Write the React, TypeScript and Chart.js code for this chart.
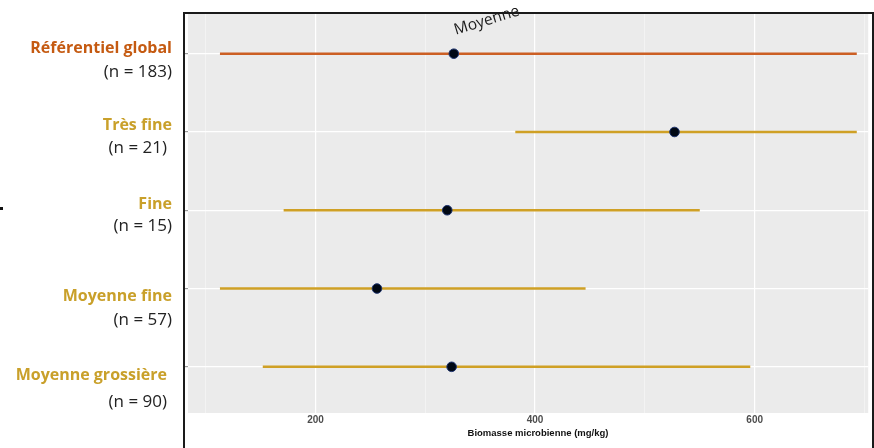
import React, { useEffect, useRef } from "react";
import { Chart, registerables } from "chart.js";

Chart.register(...registerables);

// ---- data ----
const categories = ["Référentiel global", "Très fine", "Fine", "Moyenne fine", "Moyenne grossière"];
const counts = [183, 21, 15, 57, 90];
const minValues = [113, 382, 171, 113, 152];
const maxValues = [693, 693, 550, 446, 596];
const meanValues = [326, 527, 320, 256, 324];
const xTickValues = [100, 200, 300, 400, 500, 600, 700];
const xLabelValues = [200, 400, 600];
const xTitle = "Biomasse microbienne (mg/kg)";
const annotationText = "Moyenne";

// ---- style ----
const lineColors = ["#CC5F24", "#CFA025", "#CFA025", "#CFA025", "#CFA025"];
const textColors = ["#C55A11", "#C9A02A", "#C9A02A", "#C9A02A", "#C9A02A"];
const nameDy = [-5, -7, -6, 8, 9];
const countDy = [18.5, 16, 16, 31.5, 35];
const nameRight = [172, 172, 172, 172, 167];
const countRight = [172, 167, 172, 172, 167];
const LABEL_FONT = "'Open Sans', Lato, sans-serif";

export default function App() {
  const ref = useRef<HTMLCanvasElement | null>(null);

  useEffect(() => {
    document.body.style.margin = "0";
    const canvas = ref.current!;
    const rangeSets = categories.map((c, i) => ({
      type: "line" as const,
      label: c,
      data: [
        { x: minValues[i], y: i },
        { x: maxValues[i], y: i },
      ],
      borderColor: lineColors[i],
      borderWidth: 2.6,
      borderCapStyle: "butt" as const,
      pointRadius: 0,
      showLine: true,
      order: 2,
    }));
    const meanSet = {
      type: "scatter" as const,
      label: "Moyenne",
      data: categories.map((_, i) => ({ x: meanValues[i], y: i })),
      backgroundColor: "#000814",
      borderColor: "#1E3470",
      borderWidth: 1,
      pointRadius: 4.8,
      order: 1,
    };

    const decor = {
      id: "decor",
      beforeDraw(chart: any) {
        const { ctx, chartArea: a } = chart;
        ctx.save();
        ctx.fillStyle = "#EBEBEB";
        ctx.fillRect(a.left, a.top, a.right - a.left, a.bottom - a.top);
        ctx.restore();
      },
      afterDraw(chart: any) {
        const { ctx } = chart;
        const y = chart.scales.y;
        const x = chart.scales.x;
        ctx.save();
        // category labels
        ctx.textAlign = "right";
        ctx.textBaseline = "middle";
        categories.forEach((c, i) => {
          const py = y.getPixelForValue(i);
          ctx.font = `bold 16px ${LABEL_FONT}`;
          ctx.fillStyle = textColors[i];
          ctx.fillText(c, nameRight[i], py + nameDy[i]);
          ctx.font = `17px ${LABEL_FONT}`;
          ctx.fillStyle = "#222222";
          ctx.fillText(`(n = ${counts[i]})`, countRight[i], py + countDy[i]);
        });
        // x title
        ctx.textAlign = "center";
        ctx.font = "bold 9.5px 'Liberation Sans', Arial, sans-serif";
        ctx.fillStyle = "#111111";
        ctx.fillText(xTitle, 538, 433);
        // frame
        ctx.strokeStyle = "#1A1A1A";
        ctx.lineWidth = 2;
        ctx.beginPath();
        ctx.moveTo(184, 448);
        ctx.lineTo(184, 13);
        ctx.lineTo(873, 13);
        ctx.lineTo(873, 448);
        ctx.stroke();
        // annotation
        const ax = x.getPixelForValue(meanValues[0]);
        const ay = y.getPixelForValue(0);
        ctx.translate(ax + 2, ay - 19);
        ctx.rotate((-17 * Math.PI) / 180);
        ctx.textAlign = "left";
        ctx.textBaseline = "alphabetic";
        ctx.font = `15.5px ${LABEL_FONT}`;
        ctx.fillStyle = "#1A1A1A";
        ctx.fillText(annotationText, 0, 0);
        ctx.restore();
        // stray dash
        ctx.save();
        ctx.fillStyle = "#111";
        ctx.fillRect(0, 207, 3, 3);
        ctx.restore();
      },
    };

    const chart = new Chart(canvas, {
      type: "scatter",
      data: { datasets: [...rangeSets, meanSet] as any },
      options: {
        animation: false,
        responsive: false,
        maintainAspectRatio: false,
        layout: { padding: { top: 13, right: 3, left: 0, bottom: 0 } },
        plugins: { legend: { display: false }, tooltip: { enabled: false } },
        scales: {
          x: {
            type: "linear",
            min: 83.9,
            max: 703.4,
            afterBuildTicks: (s: any) => {
              s.ticks = xTickValues.map((v) => ({ value: v }));
            },
            afterFit: (s: any) => {
              s.height = 35;
            },
            border: { display: false },
            grid: {
              drawTicks: false,
              color: (c: any) =>
                xLabelValues.includes(c.tick?.value) ? "#FFFFFF" : "rgba(255,255,255,0.6)",
              lineWidth: (c: any) => (xLabelValues.includes(c.tick?.value) ? 1.2 : 0.7),
            },
            ticks: {
              padding: 1,
              color: "#4D4D4D",
              font: { family: "'Liberation Sans', Arial, sans-serif", size: 10, weight: "bold" },
              callback: (v: any) => (xLabelValues.includes(Number(v)) ? String(v) : ""),
              maxRotation: 0,
              autoSkip: false,
            },
          },
          y: {
            type: "linear",
            reverse: true,
            min: -0.52,
            max: 4.59,
            afterBuildTicks: (s: any) => {
              s.ticks = categories.map((_, i) => ({ value: i }));
            },
            afterFit: (s: any) => {
              s.width = 188;
            },
            border: { display: false },
            grid: {
              color: "#FFFFFF",
              lineWidth: 1.2,
              drawTicks: true,
              tickLength: 3,
              tickColor: "#9A9A9A",
            },
            ticks: { display: false },
          },
        },
      },
      plugins: [decor],
    });
    return () => chart.destroy();
  }, []);

  return (
    <div style={{ position: "absolute", left: 0, top: 0, width: 874, height: 448, background: "#fff" }}>
      <canvas ref={ref} width={874} height={448} />
    </div>
  );
}
